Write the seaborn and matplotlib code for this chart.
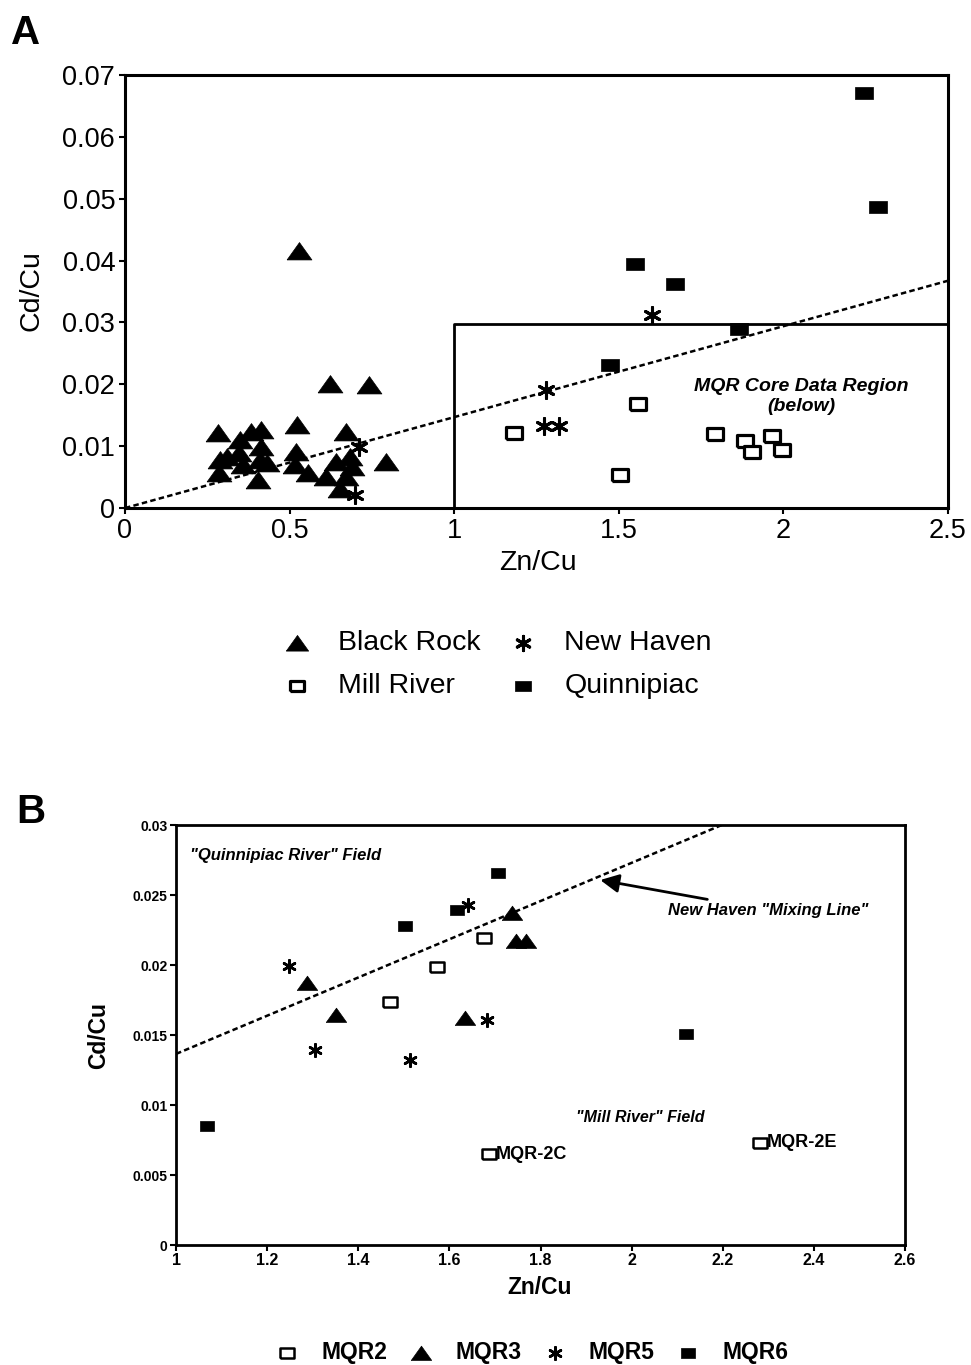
import matplotlib
matplotlib.use("Agg")
import matplotlib.pyplot as plt
import seaborn as sns
import numpy as np
import pandas as pd

# ---------------- Panel A data ----------------
br_x = [0.283, 0.29, 0.31, 0.285, 0.345, 0.348, 0.384, 0.414, 0.41, 0.412, 0.43, 0.404, 0.36,
        0.522, 0.520, 0.530, 0.517, 0.555, 0.61, 0.623, 0.64, 0.652, 0.672, 0.672, 0.683,
        0.69, 0.742, 0.793]
br_y = [0.0122, 0.0078, 0.0083, 0.0056, 0.0089, 0.0110, 0.0123, 0.0126, 0.0078, 0.0099, 0.0073,
        0.0045, 0.0070, 0.0134, 0.0091, 0.0416, 0.0069, 0.0056, 0.0051, 0.0200, 0.0075, 0.0031,
        0.0123, 0.0051, 0.0083, 0.0067, 0.0199, 0.0075]
nh_x = [0.70, 0.71, 1.278, 1.272, 1.318, 1.601]
nh_y = [0.0021, 0.0098, 0.0191, 0.0133, 0.0132, 0.0312]
mr_x = [1.182, 1.505, 1.558, 1.791, 1.884, 1.904, 1.965, 1.995]
mr_y = [0.0122, 0.0053, 0.0168, 0.0120, 0.0109, 0.0091, 0.0117, 0.0094]
qu_x = [1.472, 1.550, 1.670, 1.866, 2.245, 2.288]
qu_y = [0.0231, 0.0394, 0.0363, 0.0290, 0.0671, 0.0486]

a_line_slope = 0.0147
a_region_x = [1.0, 2.5]
a_region_y = [0.0, 0.0297]
a_xticks = [0, 0.5, 1, 1.5, 2, 2.5]
a_xticklabels = ["0", "0.5", "1", "1.5", "2", "2.5"]
a_yticks = [0, 0.01, 0.02, 0.03, 0.04, 0.05, 0.06, 0.07]
a_yticklabels = ["0", "0.01", "0.02", "0.03", "0.04", "0.05", "0.06", "0.07"]

# ---------------- Panel B data ----------------
mqr2_x = [1.470, 1.572, 1.675, 1.687, 2.282]
mqr2_y = [0.01738, 0.01989, 0.0219, 0.0065, 0.0073]
mqr3_x = [1.287, 1.351, 1.634, 1.737, 1.747, 1.769]
mqr3_y = [0.0187, 0.0164, 0.0162, 0.0237, 0.0217, 0.0217]
mqr5_x = [1.248, 1.305, 1.514, 1.641, 1.683]
mqr5_y = [0.0199, 0.0139, 0.0132, 0.0243, 0.0161]
mqr6_x = [1.068, 1.503, 1.617, 1.707, 2.119]
mqr6_y = [0.0085, 0.0228, 0.0239, 0.0266, 0.0151]

b_line_slope = 0.01365
b_xticks = [1, 1.2, 1.4, 1.6, 1.8, 2, 2.2, 2.4, 2.6]
b_xticklabels = ["1", "1.2", "1.4", "1.6", "1.8", "2", "2.2", "2.4", "2.6"]
b_yticks = [0, 0.005, 0.01, 0.015, 0.02, 0.025, 0.03]
b_yticklabels = ["0", "0.005", "0.01", "0.015", "0.02", "0.025", "0.03"]

# ---------------- style ----------------
sns.set_style("ticks")
plt.rcParams["font.family"] = ["Liberation Sans", "DejaVu Sans"]
plt.rcParams["axes.edgecolor"] = "black"
plt.rcParams["axes.labelcolor"] = "black"
plt.rcParams["xtick.color"] = "black"
plt.rcParams["ytick.color"] = "black"
plt.rcParams["xtick.labelcolor"] = "black"
plt.rcParams["ytick.labelcolor"] = "black"
plt.rcParams["text.color"] = "black"

tri = [(-1, -0.68), (1, -0.68), (0, 0.72), (-1, -0.68)]
rect = [(-1, -0.68), (1, -0.68), (1, 0.68), (-1, 0.68), (-1, -0.68)]
star = (6, 2, 0)

fig = plt.figure(figsize=(9.71, 13.65), dpi=100)
axA = fig.add_axes([0.1287, 0.6278, 0.8476, 0.3172])
axB = fig.add_axes([0.1813, 0.0879, 0.7508, 0.3077])

def df(x, y):
    return pd.DataFrame({"Zn/Cu": x, "Cd/Cu": y})

# ---------------- Panel A ----------------
sns.scatterplot(data=df(br_x, br_y), x="Zn/Cu", y="Cd/Cu", marker=tri, s=320,
                color="black", edgecolor="black", linewidth=0.5, ax=axA, label="Black Rock", zorder=3)
sns.scatterplot(data=df(mr_x, mr_y), x="Zn/Cu", y="Cd/Cu", marker=rect, s=140,
                facecolor="white", edgecolor="black", linewidth=2.3, ax=axA, label="Mill River", zorder=3)
sns.scatterplot(data=df(nh_x, nh_y), x="Zn/Cu", y="Cd/Cu", marker=star, s=130,
                color="black", linewidth=2.2, ax=axA, label="New Haven", zorder=3)
sns.scatterplot(data=df(qu_x, qu_y), x="Zn/Cu", y="Cd/Cu", marker=rect, s=150,
                color="black", edgecolor="black", linewidth=0.5, ax=axA, label="Quinnipiac", zorder=3)

lxA = np.array(a_xticks[::len(a_xticks) - 1], dtype=float)
axA.plot(lxA, a_line_slope * lxA, linestyle=(0, (2.2, 1.3)), color="black", lw=1.8, zorder=2)
axA.plot([a_region_x[0], a_region_x[0], a_region_x[1]],
         [a_region_y[0], a_region_y[1], a_region_y[1]], color="black", lw=2, zorder=2, clip_on=False)
axA.text(2.055, 0.0180, "MQR Core Data Region\n(below)", ha="center", va="center",
         fontsize=14, fontweight="bold", fontstyle="italic", linespacing=1.2)

axA.set_xlim(0, 2.5)
axA.set_ylim(0, 0.07)
axA.set_xticks(a_xticks)
axA.set_xticklabels(a_xticklabels)
axA.set_yticks(a_yticks)
axA.set_yticklabels(a_yticklabels)
axA.tick_params(labelsize=19.5, length=4, width=1.5, pad=3, direction="out")
axA.set_xlabel("Zn/Cu", fontsize=20.5, va="center")
axA.set_ylabel("Cd/Cu", fontsize=20.5, va="center")
axA.xaxis.set_label_coords(0.502, -0.128)
axA.yaxis.set_label_coords(-0.113, 0.503)
for sp in axA.spines.values():
    sp.set_linewidth(2.2)
    sp.set_color("black")

hA, lA = axA.get_legend_handles_labels()
if axA.get_legend():
    axA.get_legend().remove()
fig.legend(hA, lA, loc="center", bbox_to_anchor=(0.512, 0.5130), ncol=2, frameon=False,
           fontsize=20.5, handlelength=1.0, handletextpad=0.95, columnspacing=1.0,
           labelspacing=0.6, markerscale=0.9)

# ---------------- Panel B ----------------
sns.scatterplot(data=df(mqr2_x, mqr2_y), x="Zn/Cu", y="Cd/Cu", marker=rect, s=105,
                facecolor="white", edgecolor="black", linewidth=1.8, ax=axB, label="MQR2", zorder=3)
sns.scatterplot(data=df(mqr3_x, mqr3_y), x="Zn/Cu", y="Cd/Cu", marker=tri, s=215,
                color="black", edgecolor="black", linewidth=0.5, ax=axB, label="MQR3", zorder=3)
sns.scatterplot(data=df(mqr5_x, mqr5_y), x="Zn/Cu", y="Cd/Cu", marker=star, s=80,
                color="black", linewidth=1.9, ax=axB, label="MQR5", zorder=3)
sns.scatterplot(data=df(mqr6_x, mqr6_y), x="Zn/Cu", y="Cd/Cu", marker=rect, s=95,
                color="black", edgecolor="black", linewidth=0.5, ax=axB, label="MQR6", zorder=3)

lxB = np.array(b_xticks[::len(b_xticks) - 1], dtype=float)
axB.plot(lxB, b_line_slope * lxB, linestyle=(0, (2.2, 1.3)), color="black", lw=1.8, zorder=2)

axB.text(1.03, 0.0278, "\"Quinnipiac River\" Field", ha="left", va="center",
         fontweight="bold", fontstyle="italic", fontsize=12)
axB.text(2.018, 0.0091, "\"Mill River\" Field", ha="center", va="center",
         fontweight="bold", fontstyle="italic", fontsize=11.5)
axB.annotate("New Haven \"Mixing Line\"", xy=(1.931, 0.02607), xytext=(2.08, 0.0239),
             ha="left", va="center", fontsize=12, fontweight="bold", fontstyle="italic",
             arrowprops=dict(arrowstyle="-|>", color="black", lw=2, mutation_scale=28,
                             shrinkA=1, shrinkB=0))
axB.annotate("MQR-2C", xy=(mqr2_x[3], mqr2_y[3]), xytext=(5, 0), textcoords="offset points",
             ha="left", va="center", fontsize=13, fontweight="bold")
axB.annotate("MQR-2E", xy=(mqr2_x[4], mqr2_y[4]), xytext=(5, 0), textcoords="offset points",
             ha="left", va="center", fontsize=13, fontweight="bold")

axB.set_xlim(1, 2.6)
axB.set_ylim(0, 0.03)
axB.set_xticks(b_xticks)
axB.set_xticklabels(b_xticklabels, fontweight="bold")
axB.set_yticks(b_yticks)
axB.set_yticklabels(b_yticklabels, fontweight="bold")
axB.tick_params(axis="x", labelsize=11.5, length=4, width=1.5, pad=2)
axB.tick_params(axis="y", labelsize=10, length=4, width=1.5, pad=2)
axB.set_xlabel("Zn/Cu", fontsize=16.5, fontweight="bold", va="center")
axB.set_ylabel("Cd/Cu", fontsize=16.5, fontweight="bold", va="center")
axB.xaxis.set_label_coords(0.499, -0.100)
axB.yaxis.set_label_coords(-0.106, 0.50)
for sp in axB.spines.values():
    sp.set_linewidth(2.0)
    sp.set_color("black")

hB, lB = axB.get_legend_handles_labels()
if axB.get_legend():
    axB.get_legend().remove()
fig.legend(hB, lB, loc="center", bbox_to_anchor=(0.548, 0.0095), ncol=4, frameon=False,
           handlelength=1.0, handletextpad=1.0, columnspacing=0.95,
           prop={"weight": "bold", "size": 16.5})

# panel letters
fig.text(0.011, 1 - 33 / 1365, "A", fontsize=29, fontweight="heavy", va="center", ha="left")
fig.text(0.017, 1 - 812 / 1365, "B", fontsize=29, fontweight="heavy", va="center", ha="left")

fig.savefig("out.png", dpi=100)
